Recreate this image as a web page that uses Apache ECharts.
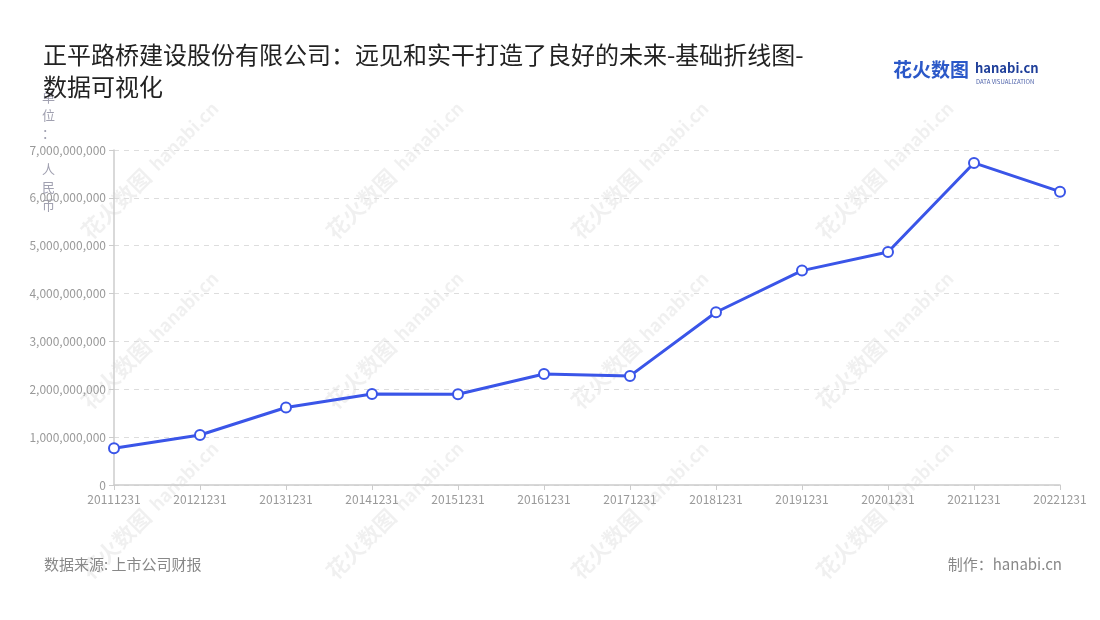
<!DOCTYPE html>
<html>
<head>
<meta charset="utf-8">
<script src="https://cdn.jsdelivr.net/npm/echarts@6/dist/echarts.min.js"></script>
<style>
  html, body { margin: 0; padding: 0; background: #fff; }
  #chart { width: 1100px; height: 620px; }
</style>
</head>
<body>
<div id="chart"></div>
<script>
// 数据
var years = ['20111231', '20121231', '20131231', '20141231', '20151231', '20161231',
             '20171231', '20181231', '20191231', '20201231', '20211231', '20221231'];
var values = [770000000, 1045000000, 1620000000, 1900000000, 1895000000, 2320000000,
              2280000000, 3610000000, 4480000000, 4870000000, 6730000000, 6130000000];
var yTicks = [0, 1000000000, 2000000000, 3000000000, 4000000000, 5000000000, 6000000000, 7000000000];

var font = '"Noto Sans CJK SC", "Noto Sans", sans-serif';

// 水印
var marks = [];
[150, 395, 640, 885].forEach(function (x) {
  [170, 340, 510].forEach(function (y) {
    marks.push({
      type: 'group', x: x, y: y, rotation: Math.PI / 4, silent: true, z: -1,
      children: [
        { type: 'text', style: { text: '花火数图', x: 0, y: 0, fill: 'rgba(0,0,0,0.06)',
          font: 'bold 22px ' + font, align: 'center', verticalAlign: 'middle' }, x: -48 },
        { type: 'text', style: { text: 'hanabi.cn', x: 0, y: 0, fill: 'rgba(0,0,0,0.06)',
          font: 'bold 18px ' + font, align: 'center', verticalAlign: 'middle' }, x: 48 }
      ]
    });
  });
});

var option = {
  backgroundColor: '#fff',
  animation: false,
  textStyle: { fontFamily: font },
  title: {
    text: '正平路桥建设股份有限公司：远见和实干打造了良好的未来-基础折线图-\n数据可视化',
    left: 38, top: 34,
    textStyle: { fontSize: 24, fontWeight: 'normal', color: '#222', lineHeight: 32, fontFamily: font }
  },
  grid: { left: 114, right: 40, top: 150, bottom: 135 },
  xAxis: {
    type: 'category',
    data: years,
    boundaryGap: false,
    axisLine: { lineStyle: { color: '#ccc', width: 1.5 } },
    axisTick: { show: true, alignWithLabel: true, lineStyle: { color: '#ccc' } },
    axisLabel: { color: '#999', fontSize: 12, margin: 8, interval: 0 }
  },
  yAxis: {
    type: 'value',
    min: yTicks[0], max: yTicks[yTicks.length - 1], interval: 1000000000,
    axisLine: { show: true, lineStyle: { color: '#ccc', width: 1.5 } },
    axisTick: { show: true, lineStyle: { color: '#ccc' } },
    axisLabel: {
      color: '#999', fontSize: 12, margin: 8,
      formatter: function (v) { return v.toLocaleString('en-US'); }
    },
    splitLine: { lineStyle: { color: '#ddd', type: [5, 5] } }
  },
  series: [{
    type: 'line',
    data: values,
    symbol: 'circle',
    symbolSize: 10,
    itemStyle: { color: '#fff', borderColor: '#3a55e8', borderWidth: 2 },
    lineStyle: { color: '#3a55e8', width: 3 }
  }],
  graphic: marks.concat([
    // 纵轴单位
    { type: 'text', left: 42, top: 88, z: 0, style: { text: '单\n位\n：\n\n人\n民\n币',
      fill: '#a0a0b0', font: '13px ' + font, lineHeight: 18 } },
    { type: 'text', left: 893, top: 60, style: { text: '花火数图', fill: '#2b58c8',
      font: 'bold 19px ' + font } },
    { type: 'text', left: 975, top: 62, style: { text: 'hanabi.cn', fill: '#1f3f9a',
      font: 'bold 13px ' + font } },
    { type: 'text', left: 976, top: 79, style: { text: 'DATA VISUALIZATION', fill: '#4a5fa8',
      font: '6px ' + font } },
    { type: 'text', left: 44, top: 557, style: { text: '数据来源: 上市公司财报', fill: '#888',
      font: '15px ' + font } },
    { type: 'text', right: 38, top: 557, style: { text: '制作：hanabi.cn', fill: '#888',
      font: '15px ' + font } }
  ])
};

var myChart = echarts.init(document.getElementById('chart'));
myChart.setOption(option);
</script>
</body>
</html>
